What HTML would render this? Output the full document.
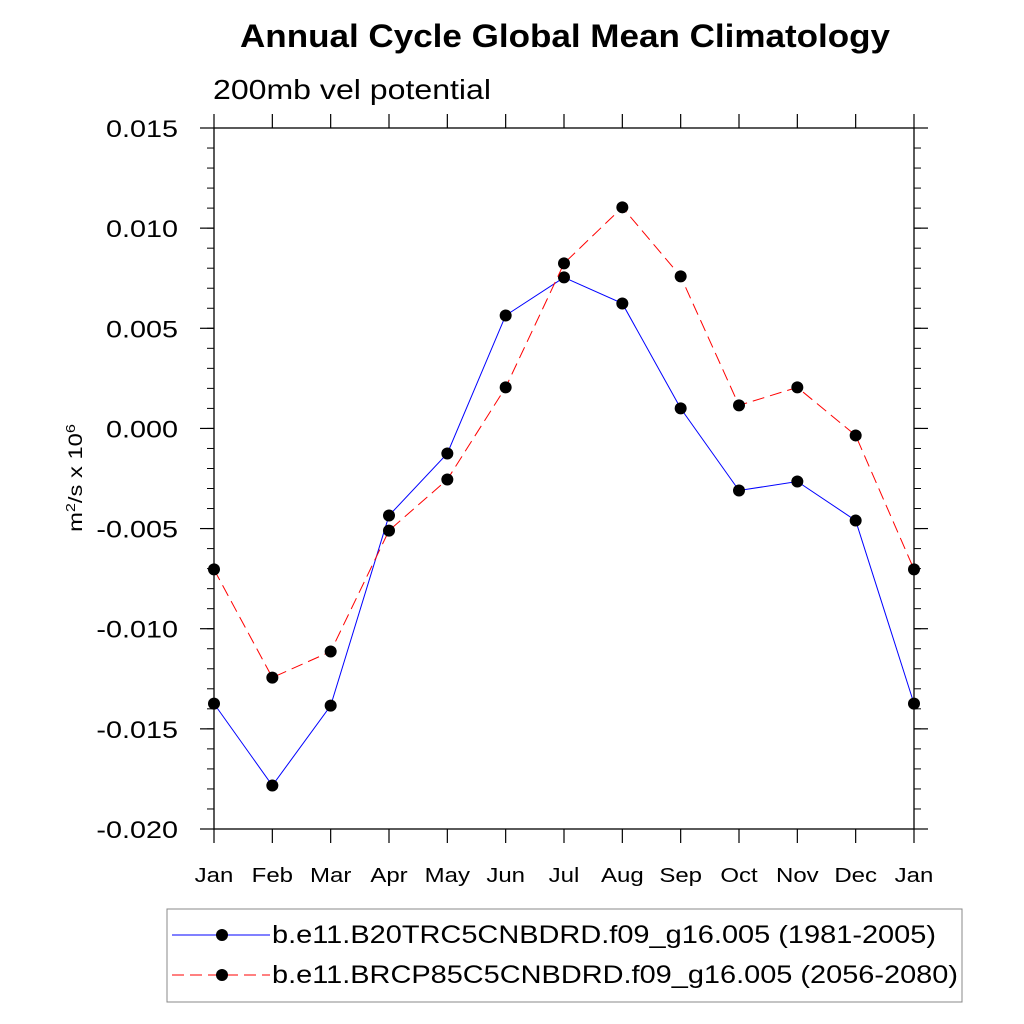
<!DOCTYPE html>
<html><head><meta charset="utf-8"><style>
html,body{margin:0;padding:0;background:#fff;}
svg{display:block;font-family:"Liberation Sans",sans-serif;}
</style></head><body>
<svg id="chart" width="1024" height="1024" viewBox="0 0 1024 1024">
<text x="240" y="47" font-size="32" font-weight="bold" textLength="650" lengthAdjust="spacingAndGlyphs">Annual Cycle Global Mean Climatology</text>
<text x="213" y="99" font-size="28" textLength="278" lengthAdjust="spacingAndGlyphs">200mb vel potential</text>
<rect x="214" y="128" width="700" height="701" fill="none" stroke="#000" stroke-width="1.3"/>
<g id="axes"></g>
<g id="series"></g>
<text transform="translate(82,478) rotate(-90) scale(1.25,1)" text-anchor="middle" font-size="19">m<tspan font-size="13" dy="-7">2</tspan><tspan dy="7">/s x 10</tspan><tspan font-size="13" dy="-7">6</tspan></text>
<g>
<rect x="167" y="909" width="795" height="93" fill="#fff" stroke="#888" stroke-width="1"/>
<g>
<line x1="172" y1="935" x2="270" y2="935" stroke="#0000ff" stroke-width="1"/>
<circle cx="222" cy="935" r="6" fill="#000"/>
<text x="272" y="943" font-size="25" textLength="664" lengthAdjust="spacingAndGlyphs">b.e11.B20TRC5CNBDRD.f09_g16.005 (1981-2005)</text>
</g>
<g>
<line x1="172" y1="975" x2="270" y2="975" stroke="#ff0000" stroke-width="1" stroke-dasharray="12,6"/>
<circle cx="222" cy="975" r="6" fill="#000"/>
<text x="272" y="983" font-size="25" textLength="686" lengthAdjust="spacingAndGlyphs">b.e11.BRCP85C5CNBDRD.f09_g16.005 (2056-2080)</text>
</g>
</g>
</svg>
<script>
const months = ["Jan","Feb","Mar","Apr","May","Jun","Jul","Aug","Sep","Oct","Nov","Dec","Jan"];
const histValues = [-0.01374,-0.01783,-0.01384,-0.00435,-0.00125,0.00564,0.00754,0.00624,0.00100,-0.00310,-0.00265,-0.00460,-0.01374];
const futValues = [-0.00704,-0.01244,-0.01114,-0.00510,-0.00255,0.00205,0.00824,0.01104,0.00759,0.00115,0.00205,-0.00035,-0.00704];
const yTicks = [0.015,0.010,0.005,0.000,-0.005,-0.010,-0.015,-0.020];
const yTickLabels = ["0.015","0.010","0.005","0.000","-0.005","-0.010","-0.015","-0.020"];

const NS="http://www.w3.org/2000/svg";
const X0=214,X1=914,Y0=128,Y1=829,YMAX=0.015,YMIN=-0.020;
function xs(i){return X0+(X1-X0)*i/(months.length-1);}
function ys(v){return Y0+(YMAX-v)/(YMAX-YMIN)*(Y1-Y0);}
function mk(tag,attrs,parent){const e=document.createElementNS(NS,tag);for(const k in attrs)e.setAttribute(k,attrs[k]);parent.appendChild(e);return e;}
const axes=document.getElementById('axes');
for(let k=0;k<yTicks.length;k++){
  const y=ys(yTicks[k]);
  mk('line',{x1:X0-14,y1:y,x2:X0,y2:y,stroke:'#000','stroke-width':1.2},axes);
  mk('line',{x1:X1,y1:y,x2:X1+14,y2:y,stroke:'#000','stroke-width':1.2},axes);
  const t=mk('text',{transform:'translate(178,'+(y+9)+') scale(1.2,1)','text-anchor':'end','font-size':24},axes);
  t.textContent=yTickLabels[k];
  
  
}
for(let m=-0.020;m<=0.0151;m+=0.001){
  const y=ys(m);
  mk('line',{x1:X0-7,y1:y,x2:X0,y2:y,stroke:'#000','stroke-width':1},axes);
  mk('line',{x1:X1,y1:y,x2:X1+7,y2:y,stroke:'#000','stroke-width':1},axes);
}
for(let i=0;i<months.length;i++){
  const x=xs(i);
  mk('line',{x1:x,y1:Y1,x2:x,y2:Y1+14,stroke:'#000','stroke-width':1.2},axes);
  mk('line',{x1:x,y1:Y0-14,x2:x,y2:Y0,stroke:'#000','stroke-width':1.2},axes);
  const t=mk('text',{transform:'translate('+x+',882) scale(1.2,1)','text-anchor':'middle','font-size':20},axes);
  t.textContent=months[i];
  
  
}
const ser=document.getElementById('series');
function draw(vals,color,dash,name){
  const g=mk('g',{},ser);
  
  
  const pts=vals.map((v,i)=>xs(i)+','+ys(v)).join(' ');
  const pl=mk('polyline',{points:pts,fill:'none',stroke:color,'stroke-width':1,'stroke-dasharray':dash},g);
  
  
  vals.forEach((v,i)=>{
    const c=mk('circle',{cx:xs(i),cy:ys(v),r:6,fill:'#000'},g);
    
    
  });
}
draw(histValues,'#0000ff','none','series-1981-2005');
draw(futValues,'#ff0000','12,6','series-2056-2080');
</script>
</body></html>
